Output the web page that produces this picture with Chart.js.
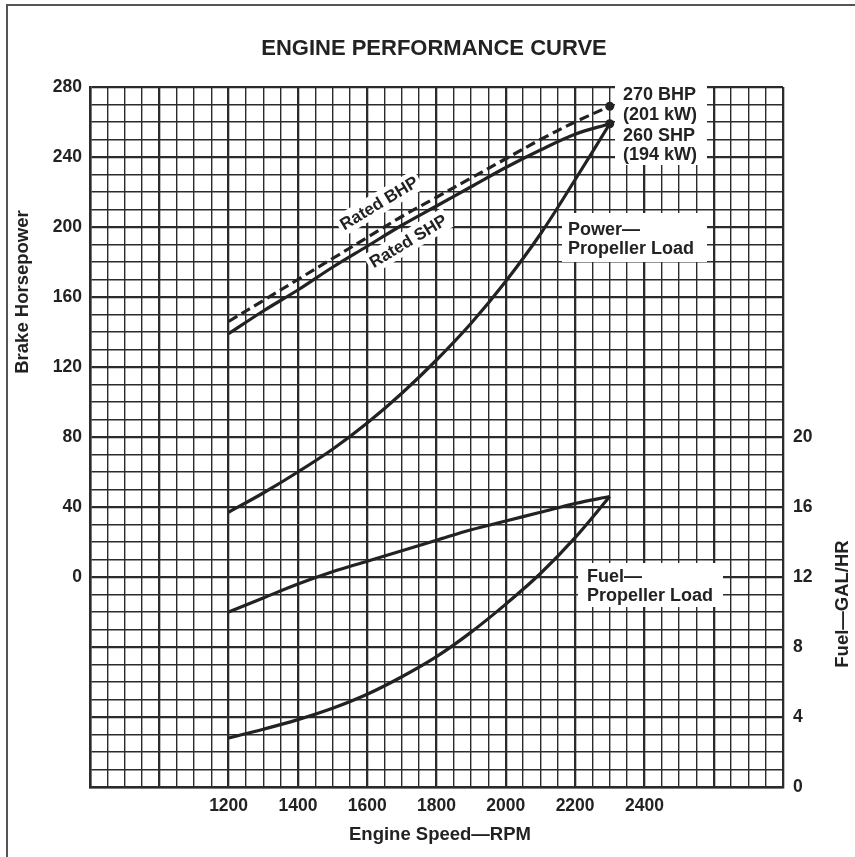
<!DOCTYPE html>
<html>
<head>
<meta charset="utf-8">
<script src="https://cdn.jsdelivr.net/npm/chart.js@4.4.1/dist/chart.umd.min.js"></script>
<style>
html,body{margin:0;padding:0;background:#fff;}
#wrap{width:855px;height:857px;position:relative;}
canvas{display:block;}
</style>
</head>
<body>
<div id="wrap"><canvas id="c" width="855" height="857"></canvas></div>
<script>
// ---- data ----
const rpm        = [1200, 1300, 1400, 1500, 1600, 1700, 1800, 1900, 2000, 2100, 2200, 2300];
const ratedBHP   = [146, 158, 170, 182, 194, 206, 217, 228, 239, 250, 260, 269];
const ratedSHP   = [139, 152, 164, 177, 189, 201, 212, 223, 234, 244, 253, 259];
const powerProp  = [37, 48, 60, 73, 88, 105, 124, 145, 169, 196, 227, 259];
const fuelRated  = [10.0, 10.8, 11.6, 12.3, 12.9, 13.5, 14.1, 14.7, 15.2, 15.7, 16.2, 16.6];
const fuelProp   = [2.8, 3.3, 3.85, 4.5, 5.3, 6.3, 7.45, 8.85, 10.45, 12.2, 14.25, 16.6];
const xTickLabels  = [1200, 1400, 1600, 1800, 2000, 2200, 2400];
const hpTickLabels = [0, 40, 80, 120, 160, 200, 240, 280];
const fuelTickLabels = [0, 4, 8, 12, 16, 20];

const INK = '#222';
const GRID = '#2b2b2b';
const FONT = '"Liberation Sans", Arial, Helvetica, sans-serif';

function pts(xs, ys){ return xs.map((x,i)=>({x:x, y:ys[i]})); }
function lastDot(ctx){ return ctx.dataIndex === rpm.length-1 ? 4.5 : 0; }

const annot = {
  id:'annot',
  beforeDatasetsDraw(chart){
    const c = chart.ctx;
    c.save();
    c.fillStyle = '#fff';
    c.fillRect(615, 83, 92, 82);
    c.fillRect(562, 213, 145, 49);
    c.fillRect(578, 563, 145, 44);
    c.font = 'bold 17px ' + FONT;
    [['Rated BHP',379,203],['Rated SHP',408,241]].forEach(([t,x,y])=>{
      const w = c.measureText(t).width;
      c.save();
      c.translate(x,y);
      c.rotate(-31*Math.PI/180);
      c.fillRect(-w/2-3,-11,w+6,22);
      c.restore();
    });
    c.restore();
  },
  afterDatasetsDraw(chart){
    const c = chart.ctx;
    c.save();
    c.fillStyle = INK;
    c.textAlign = 'left';
    c.textBaseline = 'alphabetic';
    c.font = 'bold 18px ' + FONT;
    c.fillText('270 BHP', 623, 100);
    c.fillText('(201 kW)', 623, 120);
    c.fillText('260 SHP', 623, 141);
    c.fillText('(194 kW)', 623, 160);
    c.fillText('Power\u2014', 568, 235);
    c.fillText('Propeller Load', 568, 254);
    c.fillText('Fuel\u2014', 587, 582);
    c.fillText('Propeller Load', 587, 601);
    c.font = 'bold 17px ' + FONT;
    c.textAlign = 'center';
    c.textBaseline = 'middle';
    [['Rated BHP',379,203],['Rated SHP',408,241]].forEach(([t,x,y])=>{
      c.save();
      c.translate(x,y);
      c.rotate(-31*Math.PI/180);
      c.fillText(t,0,1);
      c.restore();
    });
    c.restore();
  },
  afterDraw(chart){
    const c = chart.ctx;
    c.save();
    // page frame (left & top)
    c.strokeStyle = '#555';
    c.lineWidth = 2;
    c.beginPath();
    c.moveTo(7, 857); c.lineTo(7, 5); c.lineTo(855, 5);
    c.stroke();
    c.fillStyle = INK;
    c.textAlign = 'center';
    c.textBaseline = 'alphabetic';
    c.font = 'bold 22px ' + FONT;
    c.fillText('ENGINE PERFORMANCE CURVE', 434, 55);
    c.font = 'bold 18.5px ' + FONT;
    c.fillText('Engine Speed\u2014RPM', 440, 840);
    c.textBaseline = 'middle';
    c.save(); c.translate(23, 292); c.rotate(-Math.PI/2);
    c.fillText('Brake Horsepower', 0, 0); c.restore();
    c.save(); c.translate(843, 604); c.rotate(-Math.PI/2);
    c.fillText('Fuel\u2014GAL/HR', 0, 0); c.restore();
    c.restore();
  }
};

const lineBase = { borderColor:INK, borderWidth:3.2, tension:0.35, pointRadius:0 };

new Chart(document.getElementById('c'), {
  type: 'line',
  data: {
    datasets: [
      Object.assign({}, lineBase, { label:'Rated BHP', data: pts(rpm, ratedBHP), yAxisID:'y',
        borderDash:[10,5], pointRadius:lastDot, pointBackgroundColor:INK, pointBorderWidth:0 }),
      Object.assign({}, lineBase, { label:'Rated SHP', data: pts(rpm, ratedSHP), yAxisID:'y',
        pointRadius:lastDot, pointBackgroundColor:INK, pointBorderWidth:0 }),
      Object.assign({}, lineBase, { label:'Power Propeller Load', data: pts(rpm, powerProp), yAxisID:'y' }),
      Object.assign({}, lineBase, { label:'Fuel Rated', data: pts(rpm, fuelRated), yAxisID:'y2' }),
      Object.assign({}, lineBase, { label:'Fuel Propeller Load', data: pts(rpm, fuelProp), yAxisID:'y2' })
    ]
  },
  options: {
    responsive:false,
    animation:false,
    devicePixelRatio:1,
    layout:{ padding:{ top:87, left:0, right:0, bottom:0 } },
    plugins:{ legend:{display:false}, tooltip:{enabled:false}, title:{display:false} },
    scales:{
      x:{
        type:'linear', min:800, max:2800,
        ticks:{ stepSize:50, autoSkip:false, maxRotation:0, padding:9,
          color:INK, font:{family:FONT, size:17.5, weight:'bold'},
          callback:(v)=> xTickLabels.includes(v) ? String(v) : '' },
        grid:{ color:GRID, drawTicks:false,
          lineWidth:(ctx)=> (ctx.tick && ctx.tick.value % 200 === 0) ? 2.3 : 1.4 },
        border:{ display:true, color:GRID, width:2.5 },
        afterFit:(s)=>{ s.height = 70; }
      },
      y:{
        type:'linear', position:'left', min:-120, max:280,
        ticks:{ stepSize:10, autoSkip:false, padding:8,
          color:INK, font:{family:FONT, size:17.5, weight:'bold'},
          callback:(v)=> hpTickLabels.includes(v) ? String(v) : '' },
        grid:{ color:GRID, drawTicks:false,
          lineWidth:(ctx)=> (ctx.tick && ctx.tick.value % 40 === 0) ? 2.3 : 1.4 },
        border:{ display:true, color:GRID, width:2.5 },
        afterFit:(s)=>{ s.width = 90; }
      },
      y2:{
        type:'linear', position:'right', min:0, max:40,
        ticks:{ stepSize:4, autoSkip:false, padding:10,
          color:INK, font:{family:FONT, size:17.5, weight:'bold'},
          callback:(v)=> fuelTickLabels.includes(v) ? String(v) : '' },
        grid:{ display:false, drawTicks:false },
        border:{ display:false },
        afterFit:(s)=>{ s.width = 72; }
      }
    }
  },
  plugins:[annot]
});
</script>
</body>
</html>
